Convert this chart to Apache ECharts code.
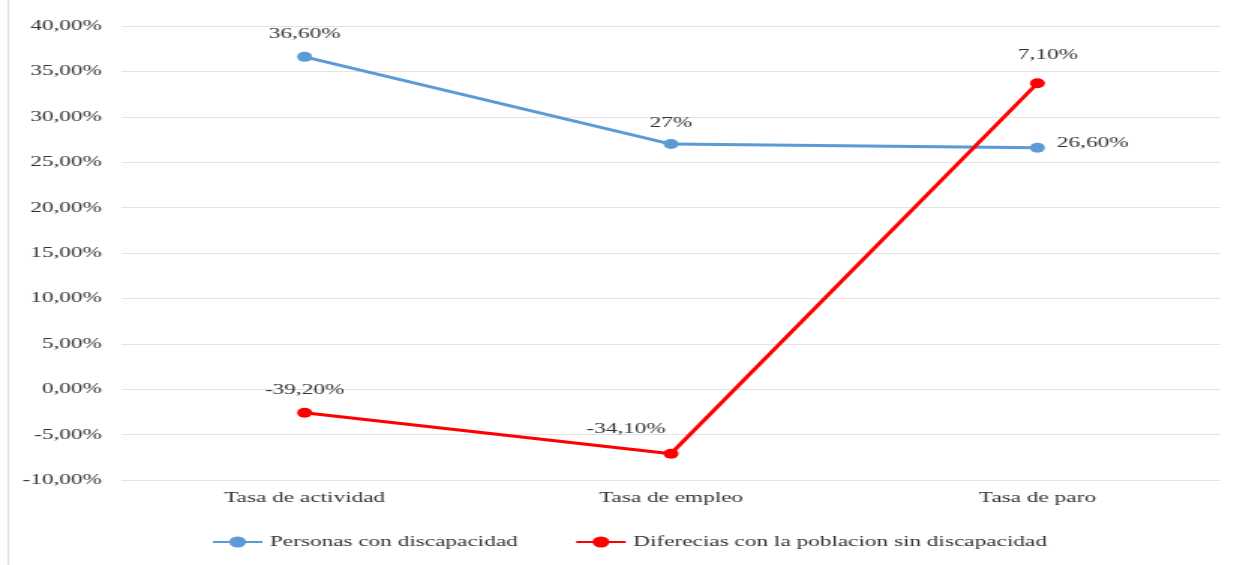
<!DOCTYPE html>
<html>
<head>
<meta charset="utf-8">
<script src="https://cdn.jsdelivr.net/npm/echarts@6/dist/echarts.min.js"></script>
<style>
  html, body { margin: 0; padding: 0; background: #ffffff; overflow: hidden; }
  #wrap { width: 1234px; height: 565px; overflow: hidden; }
  /* chart is laid out narrow and widened horizontally */
  #chart { width: 823px; height: 565px; transform: scaleX(1.4995); transform-origin: 0 0; }
</style>
</head>
<body>
<div id="wrap"><div id="chart"></div></div>
<script>
// categories and series values (percent)
const categories = ['Tasa de actividad', 'Tasa de empleo', 'Tasa de paro'];
const personasConDiscapacidad = [36.6, 27, 26.6];
const diferenciasSinDiscapacidad = [-39.2, -34.1, 7.1];
const seriesNames = ['Personas con discapacidad', 'Diferecias con la poblacion sin discapacidad'];
const yTicks = { min: -10, max: 40, interval: 5 };

const FONT = '"Liberation Serif", "Times New Roman", serif';
const TEXT = '#333333';

function pct(v) {
  return Number.isInteger(v) ? v + '%' : v.toFixed(2).replace('.', ',') + '%';
}

// per-point label placement
const blueLabels = [
  { position: 'top', distance: 10 },
  { position: 'top', distance: 8 },
  { position: 'right', distance: 8, offset: [0, -5] }
];
const redLabels = [
  { position: 'top', distance: 10 },
  { position: 'top', distance: 12, offset: [-30, 0] },
  { position: 'top', distance: 15, offset: [7, 0] }
];

function points(values, labels) {
  return values.map((v, i) => ({ value: v, label: labels[i] }));
}

const chart = echarts.init(document.getElementById('chart'));
chart.setOption({
  animation: false,
  backgroundColor: '#ffffff',
  textStyle: { fontFamily: FONT },
  graphic: [{
    type: 'line',
    shape: { x1: 5.5, y1: 0, x2: 5.5, y2: 565 },
    style: { stroke: '#dcdcdc', lineWidth: 1 }
  }],
  grid: { left: 81, right: 9, top: 26, bottom: 85 },
  legend: {
    left: 136,
    top: 529,
    itemWidth: 33,
    itemHeight: 14,
    itemGap: 38,
    textStyle: { fontFamily: FONT, fontSize: 15.5, color: TEXT },
    data: seriesNames
  },
  xAxis: {
    type: 'category',
    data: categories,
    boundaryGap: true,
    axisLine: { show: false },
    axisTick: { show: false },
    axisLabel: { fontFamily: FONT, fontSize: 15.5, color: TEXT, margin: 10 }
  },
  yAxis: {
    type: 'value',
    min: yTicks.min,
    max: yTicks.max,
    interval: yTicks.interval,
    axisLine: { show: false },
    axisTick: { show: false },
    splitLine: { lineStyle: { color: '#e3e3e3', width: 1 } },
    axisLabel: {
      fontFamily: FONT, fontSize: 15.5, color: TEXT, margin: 13,
      formatter: v => v.toFixed(2).replace('.', ',') + '%'
    }
  },
  series: [
    {
      name: seriesNames[0],
      type: 'line',
      stack: 'total',
      stackStrategy: 'all',
      data: points(personasConDiscapacidad, blueLabels),
      color: '#5B9BD5',
      lineStyle: { width: 3, color: '#5B9BD5' },
      symbol: 'circle',
      symbolSize: 10,
      itemStyle: { color: '#5B9BD5' },
      label: {
        show: true, fontFamily: FONT, fontSize: 15.5, color: TEXT,
        formatter: p => pct(p.value)
      }
    },
    {
      name: seriesNames[1],
      type: 'line',
      stack: 'total',
      stackStrategy: 'all',
      data: points(diferenciasSinDiscapacidad, redLabels),
      color: '#FF0000',
      lineStyle: { width: 3, color: '#FF0000' },
      symbol: 'circle',
      symbolSize: 10,
      itemStyle: { color: '#FF0000' },
      label: {
        show: true, fontFamily: FONT, fontSize: 15.5, color: TEXT,
        formatter: p => pct(p.value)
      }
    }
  ]
});
</script>
</body>
</html>
